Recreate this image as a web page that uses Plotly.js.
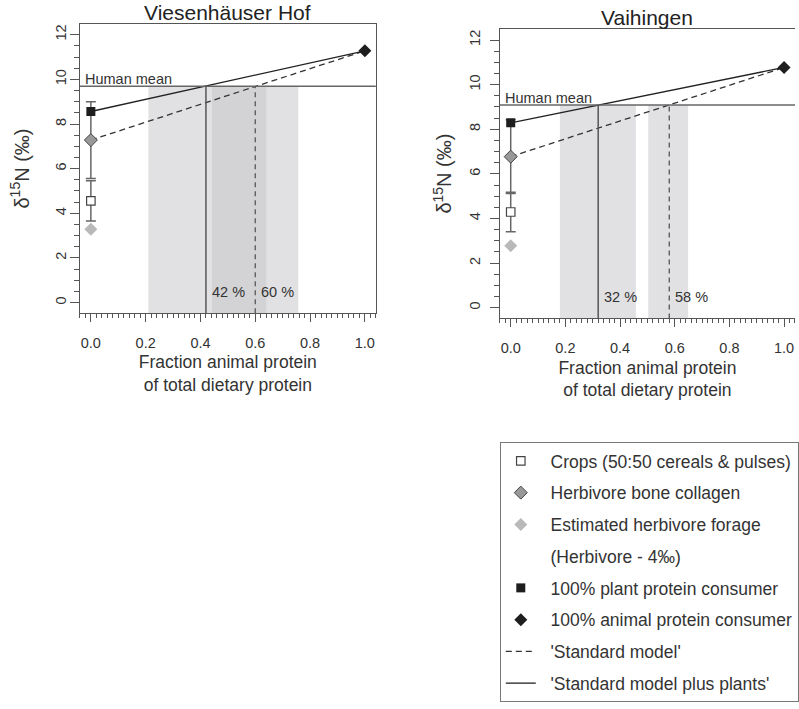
<!DOCTYPE html>
<html><head><meta charset="utf-8">
<script src="https://cdn.plot.ly/plotly-3.0.1.min.js"></script>
<style>html,body{margin:0;padding:0;background:#fff}#chart{width:799px;height:709px}</style>
</head><body><div id="chart"></div>
<script>
// ---- data ----
const sites = ["Viesenhäuser Hof", "Vaihingen"];
const humanMean = [9.69, 9.09];
const cropsMean = [4.56, 4.29];
const cropsSD = [0.90, 0.88];
const herbivoreMean = [7.28, 6.77];
const herbivoreSD = [1.72, 1.65];
const forageEstimate = [3.29, 2.78];
const plantConsumer = [8.56, 8.29];
const animalConsumer = [11.28, 10.77];
const plusPlantsFraction = [0.42, 0.32];
const standardFraction = [0.60, 0.58];
const plusPlantsBand = [[0.21, 0.64], [0.18, 0.458]];
const standardBand = [[0.442, 0.757], [0.503, 0.649]];
const plusPlantsLabel = ["42 %", "32 %"];
const standardLabel = ["60 %", "58 %"];
const percentLabelY = [0.46, 0.49];
const legendLabels = ["Crops (50:50 cereals & pulses)", "Herbivore bone collagen",
  "Estimated herbivore forage", "(Herbivore - 4‰)", "100% plant protein consumer",
  "100% animal protein consumer", "'Standard model'", "'Standard model plus plants'"];
const xAxisTitle = "Fraction animal protein<br>of total dietary protein";
const yAxisTitle = "δ<sup>15</sup>N (‰)";

// ---- layout geometry ----
const W = 799, H = 709;
const fx = p => p / W, fy = p => 1 - p / H;
const panels = [
  {xd: [fx(80.3), fx(377.7)], yd: [fy(313.3), fy(24)], ylabOff: -2, ytitleX: 20, mirrorY: true},
  {xd: [fx(502.3), 1], yd: [fy(318.4), fy(29.3)], ylabOff: 4, ytitleX: 445, mirrorY: false}
];
const yRange = [-0.48, 12.48];
const xRange = [-0.04, 1.04];
const FONT = "Liberation Sans, Arial, sans-serif";
const TXT = "#333";
const PAD = "\u00a0\u00a0";

const traces = [];
const shapes = [];
const annotations = [];
const layout = {
  width: W, height: H, margin: {l: 0, r: 0, t: 0, b: 0},
  paper_bgcolor: "#fff", plot_bgcolor: "#fff",
  font: {family: FONT, color: TXT},
  showlegend: true,
  legend: {x: fx(502.3), y: fy(442), xanchor: "left", yanchor: "top",
    bgcolor: "#fff", bordercolor: "#777", borderwidth: 1,
    font: {size: 17.5, color: TXT, family: FONT}, tracegroupgap: 6,
    traceorder: "grouped", itemclick: false, itemdoubleclick: false}
};

sites.forEach((site, i) => {
  const xa = i === 0 ? "x" : "x2", ya = i === 0 ? "y" : "y2";
  const xk = i === 0 ? "xaxis" : "xaxis2", yk = i === 0 ? "yaxis" : "yaxis2";
  const sl = i === 0;
  const P = panels[i];
  layout[xk] = {
    domain: P.xd, anchor: ya, range: xRange, tick0: 0, dtick: 0.2, tickformat: ".1f",
    ticks: "outside", ticklen: 8, tickwidth: 1, tickcolor: "#555",
    minor: {tick0: 0, dtick: 0.02, ticks: "outside", ticklen: 4, tickwidth: 1, tickcolor: "#555"},
    showline: true, mirror: true, linecolor: "#555", linewidth: 1,
    showgrid: false, zeroline: false, automargin: false, fixedrange: true,
    tickfont: {size: 14.5, color: TXT}, ticklabelstandoff: 8,
    title: {text: xAxisTitle, font: {size: 17.5, color: TXT}, standoff: 6}
  };
  layout[yk] = {
    domain: P.yd, anchor: xa, range: yRange, tick0: 0, dtick: 2, tickangle: -90,
    ticks: "outside", ticklen: 9, tickwidth: 1, tickcolor: "#555",
    minor: {tick0: 0, dtick: 0.5, ticks: "outside", ticklen: 5, tickwidth: 1, tickcolor: "#555"},
    showline: true, mirror: P.mirrorY, linecolor: "#555", linewidth: 1,
    showgrid: false, zeroline: false, automargin: false, fixedrange: true,
    tickfont: {size: 14.5, color: TXT}, ticklabelstandoff: P.ylabOff
  };

  // y-axis title
  annotations.push({text: yAxisTitle, textangle: -90, xref: "paper", yref: ya + " domain",
    x: fx(P.ytitleX), y: 0.5, xanchor: "center", yanchor: "middle", showarrow: false,
    font: {size: 20, color: TXT}});

  // shaded uncertainty ranges
  [plusPlantsBand[i], standardBand[i]].forEach(b => shapes.push({
    type: "rect", xref: xa, yref: ya, x0: b[0], x1: b[1], y0: yRange[0], y1: humanMean[i],
    fillcolor: "rgba(200,201,204,0.55)", line: {width: 0}, layer: "below"}));
  // human mean
  shapes.push({type: "line", xref: xa + " domain", yref: ya, x0: 0, x1: 1,
    y0: humanMean[i], y1: humanMean[i], line: {color: "#666", width: 1.5}});
  // intersection verticals
  shapes.push({type: "line", xref: xa, yref: ya, x0: plusPlantsFraction[i], x1: plusPlantsFraction[i],
    y0: yRange[0], y1: humanMean[i], line: {color: "#555", width: 1.5}});
  shapes.push({type: "line", xref: xa, yref: ya, x0: standardFraction[i], x1: standardFraction[i],
    y0: yRange[0], y1: humanMean[i], line: {color: "#555", width: 1.3, dash: "5px,4px"}});

  annotations.push({text: site, xref: xa + " domain", yref: ya + " domain", x: 0.5, y: 1,
    xanchor: "center", yanchor: "bottom", yshift: -2, showarrow: false,
    font: {size: 21, color: "#222"}});
  annotations.push({text: "Human mean", xref: xa, yref: ya, x: -0.03, y: humanMean[i],
    xanchor: "left", yanchor: "bottom", yshift: -3, showarrow: false, font: {size: 14.5, color: TXT}});
  annotations.push({text: plusPlantsLabel[i], xref: xa, yref: ya, x: plusPlantsFraction[i] + 0.015,
    y: percentLabelY[i], xanchor: "left", yanchor: "middle", showarrow: false, font: {size: 14.5, color: TXT}});
  annotations.push({text: standardLabel[i], xref: xa, yref: ya, x: standardFraction[i] + 0.015,
    y: percentLabelY[i], xanchor: "left", yanchor: "middle", showarrow: false, font: {size: 14.5, color: TXT}});

  // model lines
  traces.push({type: "scatter", mode: "lines", x: [0, 1], y: [herbivoreMean[i], animalConsumer[i]],
    xaxis: xa, yaxis: ya, name: PAD + legendLabels[6], legendrank: 7, legendgroup: "g7", showlegend: sl,
    line: {color: "#333", width: 1.3, dash: "6px,4px"}, hoverinfo: "skip"});
  traces.push({type: "scatter", mode: "lines", x: [0, 1], y: [plantConsumer[i], animalConsumer[i]],
    xaxis: xa, yaxis: ya, name: PAD + legendLabels[7], legendrank: 8, legendgroup: "g8", showlegend: sl,
    line: {color: "#222", width: 1.3}, hoverinfo: "skip"});
  // points with SD bars
  traces.push({type: "scatter", mode: "markers", x: [0], y: [forageEstimate[i]],
    xaxis: xa, yaxis: ya, name: PAD + legendLabels[2], legendrank: 3, legendgroup: "g3", showlegend: sl,
    marker: {symbol: "diamond", size: 10, color: "#b9b9b9", line: {width: 0}}});
  traces.push({type: "scatter", mode: "markers", x: [0], y: [herbivoreMean[i]],
    xaxis: xa, yaxis: ya, name: PAD + legendLabels[1], legendrank: 2, legendgroup: "g2", showlegend: sl,
    error_y: {type: "data", array: [herbivoreSD[i]], visible: true, color: "#666", thickness: 1.5, width: 5},
    marker: {symbol: "diamond", size: 10, color: "#999", line: {color: "#444", width: 1}}});
  traces.push({type: "scatter", mode: "markers", x: [0], y: [cropsMean[i]],
    xaxis: xa, yaxis: ya, name: PAD + legendLabels[0], legendrank: 1, legendgroup: "g1", showlegend: sl,
    error_y: {type: "data", array: [cropsSD[i]], visible: true, color: "#666", thickness: 1.5, width: 5},
    marker: {symbol: "square", size: 8.5, color: "#fff", line: {color: "#444", width: 1.2}}});
  traces.push({type: "scatter", mode: "markers", x: [null], y: [null],
    xaxis: xa, yaxis: ya, name: PAD + legendLabels[3], legendrank: 4, legendgroup: "g4", showlegend: sl,
    marker: {symbol: "square", size: 8, color: "rgba(0,0,0,0)"}});
  traces.push({type: "scatter", mode: "markers", x: [0], y: [plantConsumer[i]],
    xaxis: xa, yaxis: ya, name: PAD + legendLabels[4], legendrank: 5, legendgroup: "g5", showlegend: sl,
    marker: {symbol: "square", size: 9, color: "#1e1e1e"}});
  traces.push({type: "scatter", mode: "markers", x: [1], y: [animalConsumer[i]],
    xaxis: xa, yaxis: ya, name: PAD + legendLabels[5], legendrank: 6, legendgroup: "g6", showlegend: sl,
    marker: {symbol: "diamond", size: 10, color: "#1e1e1e"}});
});

layout.shapes = shapes;
layout.annotations = annotations;
Plotly.newPlot("chart", traces, layout, {staticPlot: true, displayModeBar: false});
</script></body></html>
